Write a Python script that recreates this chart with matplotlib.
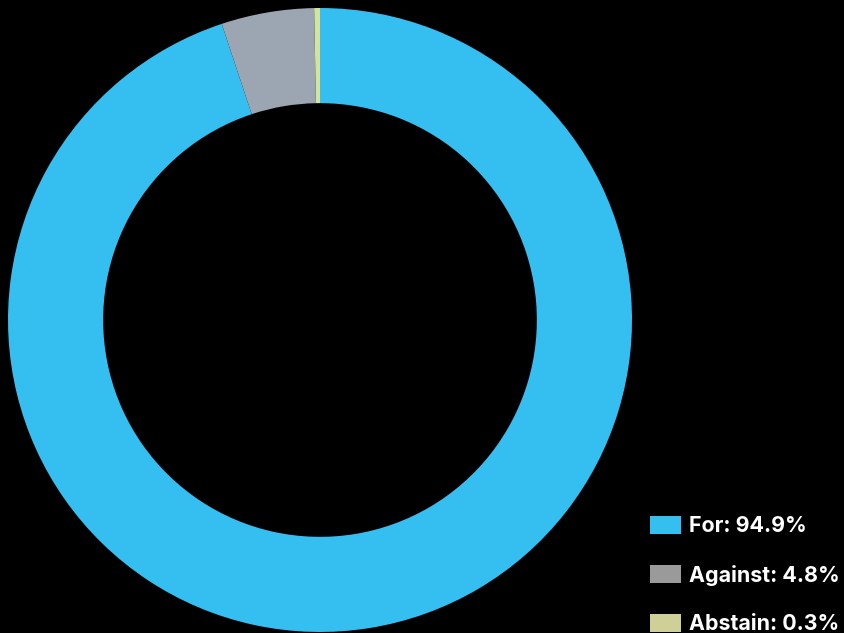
import matplotlib
import matplotlib.pyplot as plt
from matplotlib.patches import Rectangle

matplotlib.use("Agg")

labels = ["For", "Against", "Abstain"]
shares = [94.9, 4.8, 0.3]
slice_colors = ["#35bef0", "#9ba6b2", "#d3e3a0"]
legend_colors = ["#35bef0", "#9a9a9a", "#cfcf98"]

fig = plt.figure(figsize=(8.45, 6.33), dpi=100, facecolor="black")
W, H = 845, 633

# donut occupies a square axes on the left
ax = fig.add_axes([8 / W, 1 / H, 624 / W, 624 / H])
ax.set_facecolor("black")
ax.pie(
    shares,
    colors=slice_colors,
    startangle=90,
    counterclock=False,
    wedgeprops={"width": 0.305, "linewidth": 0},
)
ax.set_aspect("equal")
ax.set_xlim(-1, 1)
ax.set_ylim(-1, 1)
ax.axis("off")

# legend drawn by hand at the bottom right
for i, (name, value, color) in enumerate(zip(labels, shares, legend_colors)):
    yc = 525 + i * 49
    fig.patches.append(
        Rectangle(
            (650 / W, 1 - (yc + 9) / H),
            31 / W,
            18 / H,
            transform=fig.transFigure,
            facecolor=color,
            edgecolor="none",
        )
    )
    fig.text(
        689 / W,
        1 - (yc + 1) / H,
        f"{name}: {value}%",
        color="white",
        fontsize=15.4,
        fontweight="bold",
        family=["Inter", "DejaVu Sans"],
        va="center",
        ha="left",
    )

fig.savefig("out.png", dpi=100, facecolor="black")
